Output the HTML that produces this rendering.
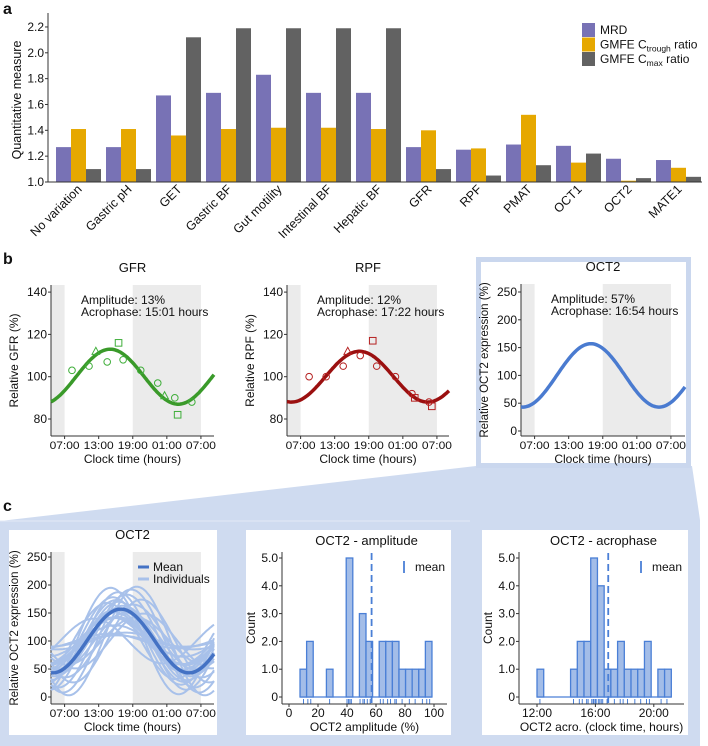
<!DOCTYPE html>
<html><head><meta charset="utf-8"><style>
html,body{margin:0;padding:0;background:#fff}
svg{display:block;font-family:"Liberation Sans",Arial,sans-serif}
</style></head><body>
<svg id="fig" width="708" height="746" viewBox="0 0 708 746" xmlns="http://www.w3.org/2000/svg"></svg>
<script>
// ---------- DATA ----------
const categories = ["No variation","Gastric pH","GET","Gastric BF","Gut motility","Intestinal BF","Hepatic BF","GFR","RPF","PMAT","OCT1","OCT2","MATE1"];
const mrdValues = [1.27,1.27,1.67,1.69,1.83,1.69,1.69,1.27,1.25,1.29,1.28,1.18,1.17];
const troughValues = [1.41,1.41,1.36,1.41,1.42,1.42,1.41,1.40,1.26,1.52,1.15,1.01,1.11];
const cmaxValues = [1.10,1.10,2.12,2.19,2.19,2.19,2.19,1.10,1.05,1.13,1.22,1.03,1.04];
const barTicks = [1.0,1.2,1.4,1.6,1.8,2.0,2.2];

const gfrFit = [100, 13, 15.02];   // mesor, amplitude, acrophase (h)
const gfrTimes = [8.3,11.3,12.5,14.5,16.5,17.3,20.4,23.4,24.6,26.4,26.9,29.4];
const gfrVals  = [103,105,112,107,116,108,103,97,91,90,82,88];
const gfrShapes = ["o","o","t","o","s","o","o","o","t","o","s","o"];
const rpfFit = [100, 12, 17.37];
const rpfTimes = [8.5,11.5,14.5,15.3,17.5,19.7,20.4,23.7,26.6,27.1,29.6,30.1];
const rpfVals  = [100,100,105,112,110,117,105,100,92,90,88,86];
const rpfShapes = ["o","o","o","t","o","s","o","o","o","s","o","s"];
const oct2Fit = [100, 57, 16.9];
const pctTicks = [80,100,120,140];
const octTicks = [0,50,100,150,200,250];
const timeTickLabels = ["07:00","13:00","19:00","01:00","07:00"];
const timeTickHours = [7,13,19,25,31];

const indivAmp = [10,13,15,28,40,41,42,42,43,49,51,52,54,56,63,65,68,70,73,74,78,83,87,92,95,97];
const indivAcro = [16.2,14.9,17.7,15.9,12.2,16.0,19.5,15.4,16.3,20.9,15.75,18.2,16.8,15.85,17.3,19.1,14.5,16.5,16.05,20.5,15.5,17.9,16.4,18.7,15.1,19.7];
const countTicks = [0,1,2,3,4,5];
const ampTicks = [0,20,40,60,80,100];
const acroTicks = [12,16,20];
const acroTickLabels = ["12:00","16:00","20:00"];

// ---------- HELPERS ----------
const NS="http://www.w3.org/2000/svg";
const svg=document.getElementById('fig');
function mk(tag,attrs,parent){const e=document.createElementNS(NS,tag);for(const k in attrs)e.setAttribute(k,attrs[k]);(parent||svg).appendChild(e);return e;}
function txt(s,x,y,size,anchor,parent,extra){const t=mk('text',Object.assign({x:x,y:y,'font-size':size,'text-anchor':anchor||'start',fill:'#111'},extra||{}),parent);t.textContent=s;return t;}
function cos(p,t){return p[0]+p[1]*Math.cos(2*Math.PI*(t-p[2])/24);}

// ---------- PANEL A ----------
const A={x0:48,base:182,ppu:129.2,g0:56,gw:50,bw:15};
const yA=v=>A.base-(v-1.0)*A.ppu;
let l=txt('a',3,14,16,'start',svg,{'font-weight':'bold'});

const gA=mk('g',{});

const series=[[mrdValues,'#7872b5','mrd'],[troughValues,'#e6a800','trough'],[cmaxValues,'#626262','cmax']];
categories.forEach((c,i)=>{
  series.forEach((s,j)=>{
    const v=s[0][i];const x=A.g0+i*A.gw+j*A.bw;
    const r=mk('rect',{x:x,y:yA(v),width:A.bw,height:A.base-yA(v),fill:s[1]},gA);
    
    
  });
  const cx=A.g0+i*A.gw+22.5+4;
  const t=txt(c,cx,190,12.5,'end',gA,{transform:`rotate(-45 ${cx} 190)`});
  
});
mk('line',{x1:A.x0,y1:A.base,x2:702,y2:A.base,stroke:'#333'},gA);
mk('line',{x1:A.x0,y1:13,x2:A.x0,y2:A.base,stroke:'#333'},gA);
barTicks.forEach(v=>{mk('line',{x1:A.x0-3,x2:A.x0,y1:yA(v),y2:yA(v),stroke:'#333'},gA);
  const t=txt(v.toFixed(1),A.x0-4,yA(v)+4,12,'end',gA);});
l=txt('Quantitative measure',21,100,12.5,'middle',gA,{transform:'rotate(-90 21 100)'});

const leg=mk('g',{});
[['MRD',''],['GMFE C','trough'],['GMFE C','max']].forEach((e,i)=>{
  const y=23+i*14.5;
  mk('rect',{x:582,y:y,width:13,height:14,fill:series[i][1]},leg);
  const t=txt(e[0],600,y+11,12,'start',leg);
  if(e[1]){const s=mk('tspan',{'font-size':8.5,dy:3},t);s.textContent=e[1];const s2=mk('tspan',{dy:-3},t);s2.textContent=' ratio';}
  
});

// ---------- FAN BACKGROUND ----------
const fan=mk('polygon',{points:'476,466 692,466 700,520 700,746 0,746 0,521',fill:'#cfdbf0'});

mk('line',{x1:0,y1:521,x2:470,y2:521,stroke:'#e3eaf6','stroke-width':1});
const oBox=mk('rect',{x:478.5,y:259.5,width:210,height:206,fill:'#fff',stroke:'#cad7ee','stroke-width':5});

[[9,530,208,205],[246,530,205,205],[482,530,206,205]].forEach((b,i)=>{
  const r=mk('rect',{x:b[0],y:b[1],width:b[2],height:b[3],fill:'#fff'});
  
});
l=txt('b',3,264,16,'start',svg,{'font-weight':'bold'});
l=txt('c',3,511,16,'start',svg,{'font-weight':'bold'});

// ---------- TIME PLOT ----------
function timePlot(o){
  const g=mk('g',{});
  const x07=o.x0+13.6,pph=5.68;
  const xT=t=>x07+(t-7)*pph;
  const yV=v=>o.y0v-(v-o.v0)*o.ppv;
  const tMin=7-13.6/pph,tMax=(o.x1-x07)/pph+7;
  mk('rect',{x:o.x0,y:o.top,width:xT(7)-o.x0,height:o.bot-o.top,fill:'#ebebeb'},g);
  mk('rect',{x:xT(19),y:o.top,width:xT(31)-xT(19),height:o.bot-o.top,fill:'#ebebeb'},g);
  mk('line',{x1:o.x0,y1:o.top,x2:o.x0,y2:o.bot,stroke:'#333'},g);
  mk('line',{x1:o.x0,y1:o.bot,x2:o.x1,y2:o.bot,stroke:'#333'},g);
  o.ticks.forEach(v=>{mk('line',{x1:o.x0-3,x2:o.x0,y1:yV(v),y2:yV(v),stroke:'#333'},g);
    const t=txt(String(v),o.x0-4,yV(v)+4,12,'end',g);});
  timeTickHours.forEach((h,i)=>{mk('line',{x1:xT(h),x2:xT(h),y1:o.bot,y2:o.bot+3,stroke:'#333'},g);
    const t=txt(timeTickLabels[i],xT(h),o.bot+13,11,'middle',g,{'textLength':30,'lengthAdjust':'spacingAndGlyphs'});});
  let t=txt('Clock time (hours)',(o.x0+o.x1)/2,o.bot+27,12,'middle',g);
  const yc=(o.top+o.bot)/2;
  t=txt(o.ylab,o.x0-33,yc,o.ylfs||12,'middle',g,{transform:`rotate(-90 ${o.x0-33} ${yc})`});
  t=txt(o.title,(o.x0+o.x1)/2,o.top-13,13,'middle',g);
  if(o.note){t=txt(o.note[0],o.x0+30,o.top+19,12,'start',g);
    t=txt(o.note[1],o.x0+30,o.top+31,12,'start',g);}
  const path=p=>{let d='';for(let i=0;i<=120;i++){const tt=tMin+(tMax-tMin)*i/120;d+=(i?'L':'M')+xT(tt).toFixed(1)+','+yV(cos(p,tt)).toFixed(1);}return d;};
  if(o.indiv){indivAmp.forEach((a,i)=>{const p=mk('path',{d:path([100,a,indivAcro[i]]),fill:'none',stroke:'#a8c1ea','stroke-width':2},g);
    });}
  const c=mk('path',{d:path(o.fit),fill:'none',stroke:o.color,'stroke-width':3.5},g);
  
  if(o.times){o.times.forEach((tm,i)=>{const x=xT(tm),y=yV(o.vals[i]),s=o.shapes[i];let m;
    if(s==='o')m=mk('circle',{cx:x,cy:y,r:3.3,fill:'none',stroke:o.mcol},g);
    else if(s==='s')m=mk('rect',{x:x-3.3,y:y-3.3,width:6.6,height:6.6,fill:'none',stroke:o.mcol},g);
    else m=mk('polygon',{points:`${x},${y-4} ${x-3.8},${y+3} ${x+3.8},${y+3}`,fill:'none',stroke:o.mcol},g);
    });}
  if(o.legend){const lg=mk('g',{},g);
    mk('line',{x1:138,x2:149,y1:567,y2:567,stroke:'#4472c4','stroke-width':3},lg);txt('Mean',153,571,12,'start',lg);
    mk('line',{x1:138,x2:149,y1:579,y2:579,stroke:'#a8c1ea','stroke-width':3},lg);txt('Individuals',153,583,12,'start',lg);}
}
timePlot({name:'gfr-chart',x0:51,x1:214,top:285,bot:436,v0:80,y0v:419,ppv:42.3/20,ticks:pctTicks,fit:gfrFit,color:'#3a9a2a',mcol:'#3fae3a',
  times:gfrTimes,vals:gfrVals,shapes:gfrShapes,title:'GFR',ylab:'Relative GFR (%)',note:['Amplitude: 13%','Acrophase: 15:01 hours']});
timePlot({name:'rpf-chart',x0:287,x1:449,top:285,bot:436,v0:80,y0v:419,ppv:42.3/20,ticks:pctTicks,fit:rpfFit,color:'#9b1010',mcol:'#b52020',
  times:rpfTimes,vals:rpfVals,shapes:rpfShapes,title:'RPF',ylab:'Relative RPF (%)',note:['Amplitude: 12%','Acrophase: 17:22 hours']});
timePlot({name:'oct2-chart',x0:521,x1:685,top:284,bot:436,v0:0,y0v:431,ppv:139/250,ticks:octTicks,fit:oct2Fit,color:'#4a7bd0',
  title:'OCT2',ylab:'Relative OCT2 expression (%)',ylfs:11.5,note:['Amplitude: 57%','Acrophase: 16:54 hours']});
timePlot({name:'oct2-individuals-chart',x0:51,x1:214,top:552,bot:704,v0:0,y0v:697,ppv:140/250,ticks:octTicks,fit:oct2Fit,color:'#4472c4',
  title:'OCT2',ylab:'Relative OCT2 expression (%)',ylfs:11.5,indiv:true,legend:true});

// ---------- HISTOGRAMS ----------
function hist(o){
  const g=mk('g',{});
  const xV=v=>o.xz+(v-o.vz)*o.ppx;
  const yC=c=>697-c*27.8;
  const nb=o.nbins;const counts=new Array(nb).fill(0);
  o.values.forEach(v=>{const k=Math.min(nb-1,Math.floor((v-o.start)/o.w));if(k>=0)counts[k]++;});
  mk('line',{x1:xV(o.start),x2:xV(o.start+nb*o.w),y1:yC(0),y2:yC(0),stroke:'#4a7fd6','stroke-width':1.3},g);
  counts.forEach((c,k)=>{if(!c)return;const r=mk('rect',{x:xV(o.start+k*o.w),y:yC(c),width:o.w*o.ppx,height:c*27.8,fill:'#a3bde8',stroke:'#4a7fd6','stroke-width':1.3},g);
    });
  o.values.forEach(v=>{const r=mk('line',{x1:xV(v),x2:xV(v),y1:699,y2:704,stroke:'#4a7fd6'},g);});
  const mean=o.values.reduce((a,b)=>a+b,0)/o.values.length;
  const ml=mk('line',{x1:xV(mean),x2:xV(mean),y1:553,y2:704,stroke:'#4a7fd6','stroke-width':1.8,'stroke-dasharray':'7,4'},g);
  
  mk('line',{x1:o.x0,x2:o.x0,y1:552,y2:704,stroke:'#333'},g);
  mk('line',{x1:o.x0,x2:o.x1,y1:704,y2:704,stroke:'#333'},g);
  countTicks.forEach(c=>{mk('line',{x1:o.x0-3,x2:o.x0,y1:yC(c),y2:yC(c),stroke:'#333'},g);
    const t=txt(c?c.toFixed(1):'0',o.x0-4,yC(c)+4,12,'end',g);});
  o.ticks.forEach((v,i)=>{mk('line',{x1:xV(v),x2:xV(v),y1:704,y2:707,stroke:'#333'},g);
    const t=txt(o.tickLabels[i],xV(v),717,12,'middle',g);});
  let t=txt(o.xlab,(o.x0+o.x1)/2,731,12,'middle',g);
  t=txt('Count',o.x0-27,628,12,'middle',g,{transform:`rotate(-90 ${o.x0-27} 628)`});
  t=txt(o.title,(o.x0+o.x1)/2+2,545,13,'middle',g);
  const lg=mk('g',{},g);
  mk('line',{x1:o.x1-43,x2:o.x1-43,y1:561,y2:573,stroke:'#4a7fd6','stroke-width':1.8},lg);
  txt('mean',o.x1-32,571,12,'start',lg);
}
hist({name:'amplitude-histogram',x0:282,x1:447,xz:289,vz:0,ppx:1.45,start:7.6,w:4.55,nbins:20,values:indivAmp,
  ticks:ampTicks,tickLabels:ampTicks.map(String),xlab:'OCT2 amplitude (%)',title:'OCT2 - amplitude'});
hist({name:'acrophase-histogram',x0:519,x1:684,xz:537,vz:12,ppx:14.6,start:12.0,w:0.46,nbins:20,values:indivAcro,
  ticks:acroTicks,tickLabels:acroTickLabels,xlab:'OCT2 acro. (clock time, hours)',title:'OCT2 - acrophase'});
</script>
</body></html>
